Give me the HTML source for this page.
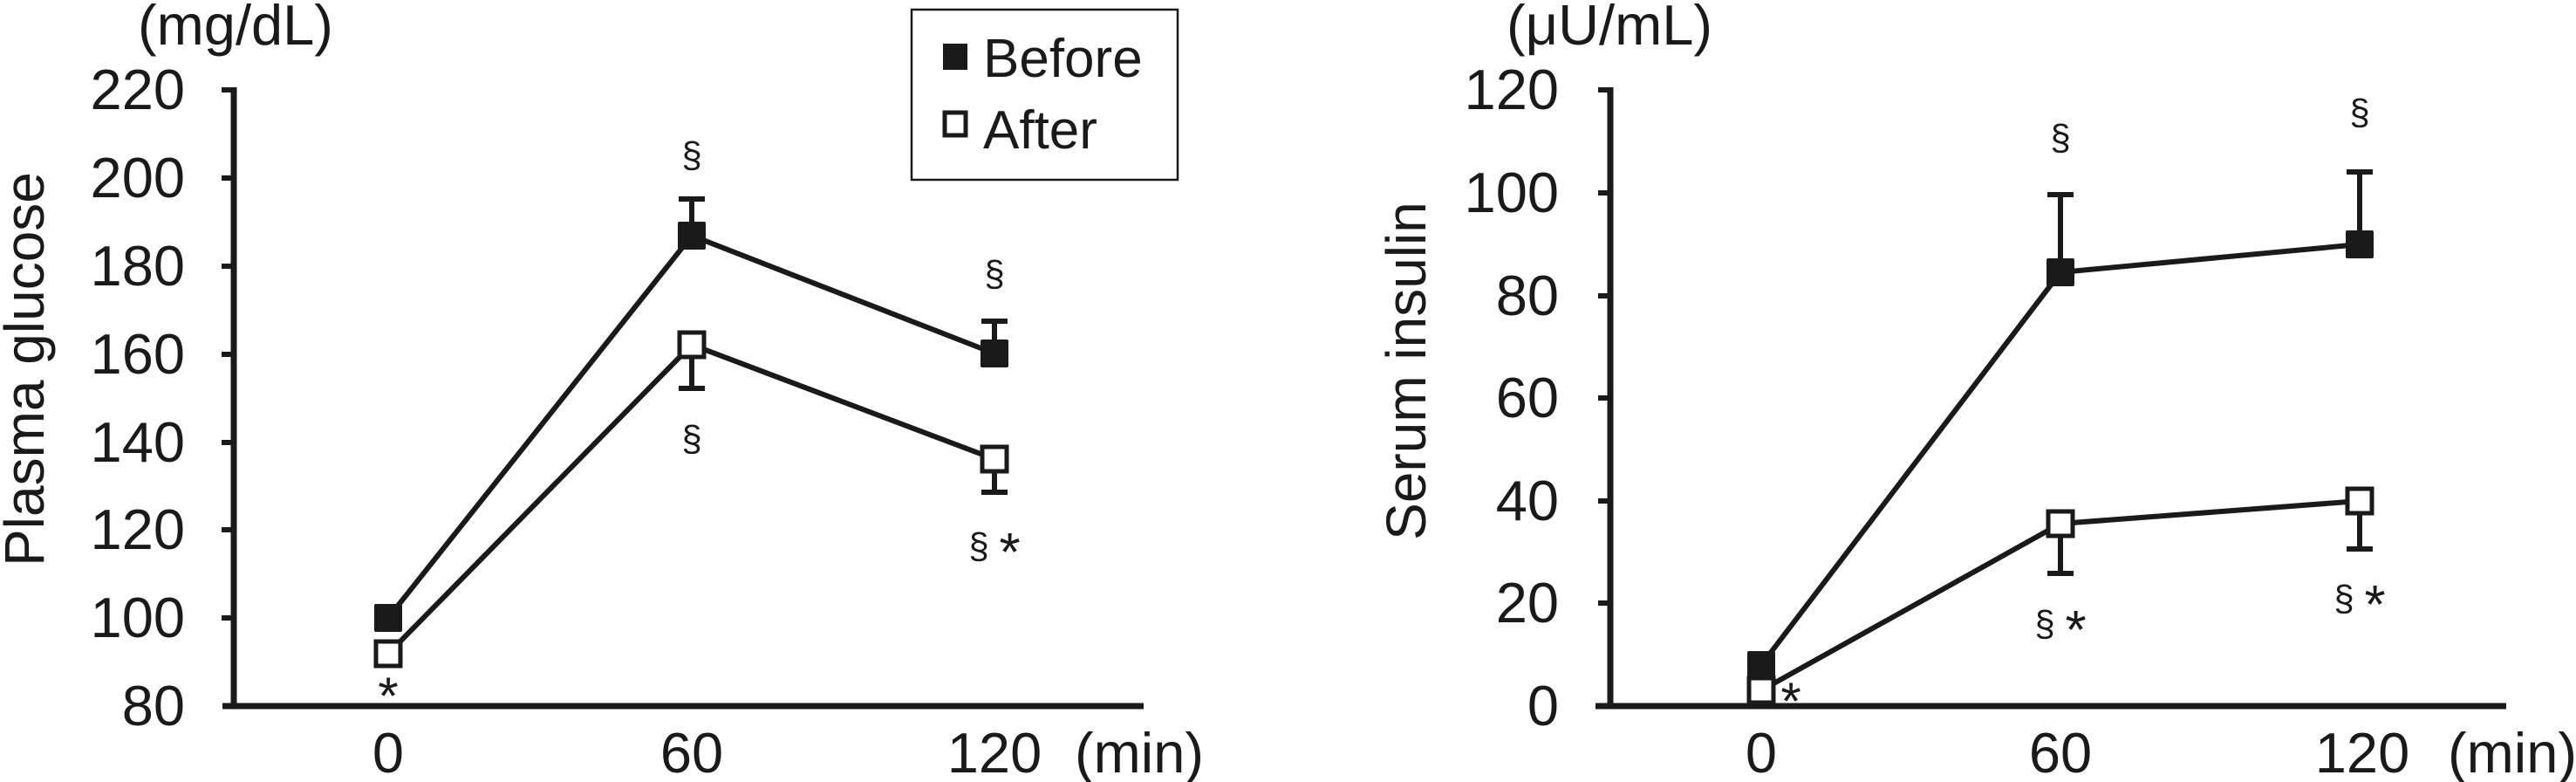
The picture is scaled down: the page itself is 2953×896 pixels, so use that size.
<!DOCTYPE html>
<html><head><meta charset="utf-8"><style>
html,body{margin:0;padding:0;background:#fff;}
svg{display:block;}
text{font-family:"Liberation Sans",Arial,sans-serif;fill:#1a1a1a;}
</style></head><body>
<svg width="2953" height="896" viewBox="0 0 2953 896" xmlns="http://www.w3.org/2000/svg">
<g stroke="#1a1a1a" stroke-width="6" fill="none">
<line x1="268" y1="100" x2="268" y2="812" stroke-width="7"/>
<line x1="255" y1="809" x2="1311" y2="809" stroke-width="7"/>
<line x1="254" y1="103" x2="268" y2="103"/>
<line x1="254" y1="204" x2="268" y2="204"/>
<line x1="254" y1="305" x2="268" y2="305"/>
<line x1="254" y1="406" x2="268" y2="406"/>
<line x1="254" y1="507" x2="268" y2="507"/>
<line x1="254" y1="607" x2="268" y2="607"/>
<line x1="254" y1="708" x2="268" y2="708"/>
<line x1="793" y1="228" x2="793" y2="270"/><line x1="778" y1="228" x2="808" y2="228"/>
<line x1="1140" y1="368" x2="1140" y2="405"/><line x1="1125" y1="368" x2="1155" y2="368"/>
<line x1="793" y1="395" x2="793" y2="445"/><line x1="778" y1="445" x2="808" y2="445"/>
<line x1="1140" y1="525" x2="1140" y2="564"/><line x1="1125" y1="564" x2="1155" y2="564"/>
<polyline points="445,708 793,270 1140,405"/>
<polyline points="445,749 793,395 1140,526"/>
<line x1="1846" y1="100" x2="1846" y2="812" stroke-width="7"/>
<line x1="1829" y1="809" x2="2873" y2="809" stroke-width="7"/>
<line x1="1832" y1="103" x2="1846" y2="103"/>
<line x1="1832" y1="221" x2="1846" y2="221"/>
<line x1="1832" y1="339" x2="1846" y2="339"/>
<line x1="1832" y1="456" x2="1846" y2="456"/>
<line x1="1832" y1="574" x2="1846" y2="574"/>
<line x1="1832" y1="691" x2="1846" y2="691"/>
<line x1="2362" y1="223" x2="2362" y2="312"/><line x1="2347" y1="223" x2="2377" y2="223"/>
<line x1="2705" y1="197" x2="2705" y2="280"/><line x1="2690" y1="197" x2="2720" y2="197"/>
<line x1="2362" y1="600" x2="2362" y2="657"/><line x1="2347" y1="657" x2="2377" y2="657"/>
<line x1="2705" y1="574" x2="2705" y2="629"/><line x1="2690" y1="629" x2="2720" y2="629"/>
<polyline points="2019,762 2362,312 2705,280"/>
<polyline points="2019,791 2362,600 2705,574"/>
<rect x="1045" y="11" width="305" height="195" stroke-width="2.5"/>
</g>
<g fill="#1a1a1a">
<rect x="429" y="692" width="32" height="32" rx="2"/>
<rect x="777" y="254" width="32" height="32" rx="2"/>
<rect x="1124" y="389" width="32" height="32" rx="2"/>
<rect x="2003" y="746" width="32" height="32" rx="2"/>
<rect x="2346" y="296" width="32" height="32" rx="2"/>
<rect x="2689" y="264" width="32" height="32" rx="2"/>
<rect x="1081" y="50" width="28" height="30"/>
</g>
<g fill="#fff" stroke="#1a1a1a" stroke-width="5">
<rect x="431" y="735" width="28" height="28"/>
<rect x="779" y="381" width="28" height="28"/>
<rect x="1126" y="512" width="28" height="28"/>
<rect x="2005" y="777" width="28" height="28"/>
<rect x="2348" y="586" width="28" height="28"/>
<rect x="2691" y="560" width="28" height="28"/>
<rect x="1083" y="129" width="24" height="26"/>
</g>
<g font-size="65" text-anchor="end">
<text x="212" y="125">220</text><text x="212" y="226">200</text><text x="212" y="327">180</text>
<text x="212" y="428">160</text><text x="212" y="529">140</text><text x="212" y="629">120</text>
<text x="212" y="730">100</text><text x="212" y="831">80</text>
</g>
<g font-size="65" text-anchor="middle">
<text x="445" y="885">0</text><text x="793" y="885">60</text><text x="1140" y="885">120</text>
</g>
<text x="1232" y="885" font-size="65">(min)</text>
<text x="158" y="51" font-size="65">(mg/dL)</text>
<text transform="translate(50,423) rotate(-90)" font-size="64" text-anchor="middle">Plasma glucose</text>
<text x="1127" y="88" font-size="62">Before</text>
<text x="1127" y="170" font-size="62">After</text>
<g font-size="42" text-anchor="middle">
<text x="793" y="192">§</text><text x="1140" y="328">§</text><text x="793" y="517">§</text>
<text x="1140" y="640">§ <tspan font-size="62" dy="14">*</tspan></text>
</g>
<text x="445" y="818" font-size="60" text-anchor="middle">*</text>
<g font-size="65" text-anchor="end">
<text x="1787" y="125">120</text><text x="1787" y="243">100</text><text x="1787" y="361">80</text>
<text x="1787" y="478">60</text><text x="1787" y="596">40</text><text x="1787" y="713">20</text>
<text x="1787" y="831">0</text>
</g>
<g font-size="65" text-anchor="middle">
<text x="2019" y="885">0</text><text x="2362" y="885">60</text><text x="2708" y="885">120</text>
</g>
<text x="2806" y="885" font-size="65">(min)</text>
<text x="1727" y="51" font-size="65">(μU/mL)</text>
<text transform="translate(1634,425) rotate(-90)" font-size="64" text-anchor="middle">Serum insulin</text>
<g font-size="42" text-anchor="middle">
<text x="2362" y="172">§</text><text x="2705" y="143">§</text>
<text x="2362" y="729">§ <tspan font-size="62" dy="14">*</tspan></text>
<text x="2705" y="700">§ <tspan font-size="62" dy="14">*</tspan></text>
</g>
<text x="2053" y="824" font-size="60" text-anchor="middle">*</text>
</svg>
</body></html>
